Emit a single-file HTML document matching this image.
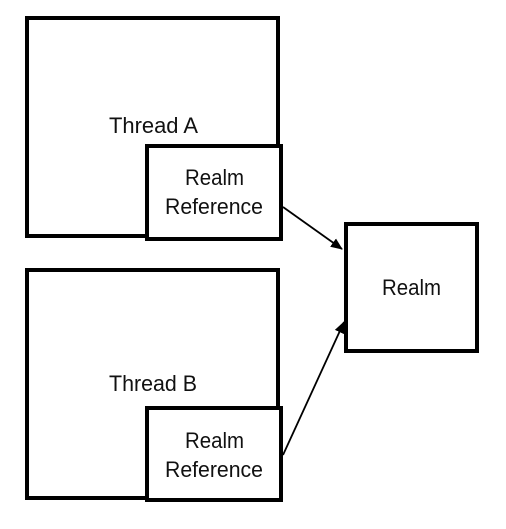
<!DOCTYPE html>
<html><head><meta charset="utf-8"><style>html,body{margin:0;padding:0;background:#fff}svg{display:block}</style></head>
<body>
<svg width="506" height="529" viewBox="0 0 506 529" xmlns="http://www.w3.org/2000/svg">
<defs><marker id="ah" markerWidth="12" markerHeight="12" refX="11" refY="6" orient="auto" markerUnits="userSpaceOnUse"><path d="M0,1 L12,6 L0,11 z" fill="#000"/></marker></defs>
<g fill="#fff" stroke="#000" stroke-width="4">
<rect x="27" y="18" width="251" height="218"/>
<rect x="147" y="146" width="134" height="93"/>
<rect x="27" y="270" width="251" height="228"/>
<rect x="147" y="408" width="134" height="92"/>
<rect x="346" y="224" width="131" height="127"/>
</g>
<g stroke="#000" stroke-width="1.8">
<line x1="283" y1="207" x2="342" y2="249" marker-end="url(#ah)"/>
<line x1="283" y1="455" x2="344" y2="322" marker-end="url(#ah)"/>
</g>
<g font-family="Liberation Sans, sans-serif" font-size="22" fill="#111">
<text x="109" y="133" textLength="89" lengthAdjust="spacingAndGlyphs">Thread A</text>
<text x="185" y="185" textLength="59" lengthAdjust="spacingAndGlyphs">Realm</text>
<text x="165" y="214" textLength="98" lengthAdjust="spacingAndGlyphs">Reference</text>
<text x="109" y="391" textLength="88" lengthAdjust="spacingAndGlyphs">Thread B</text>
<text x="185" y="448" textLength="59" lengthAdjust="spacingAndGlyphs">Realm</text>
<text x="165" y="477" textLength="98" lengthAdjust="spacingAndGlyphs">Reference</text>
<text x="382" y="295" textLength="59" lengthAdjust="spacingAndGlyphs">Realm</text>
</g>
</svg>
</body></html>
